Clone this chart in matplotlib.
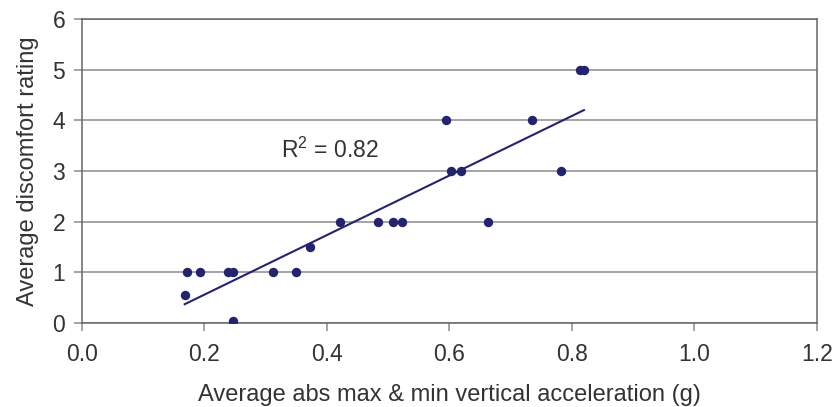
import numpy as np
import matplotlib
matplotlib.use("Agg")
import matplotlib.pyplot as plt

# ── Data ─────────────────────────────────────────────────────────────────────
accel_g = [0.168, 0.171, 0.193, 0.238, 0.247, 0.247, 0.312, 0.349, 0.373,
           0.422, 0.484, 0.508, 0.523, 0.594, 0.603, 0.619, 0.664, 0.735,
           0.783, 0.813, 0.820]
discomfort = [0.55, 1.0, 1.0, 1.0, 1.0, 0.04, 1.0, 1.0, 1.5,
              2.0, 2.0, 2.0, 2.0, 4.0, 3.0, 3.0, 2.0, 4.0,
              3.0, 5.0, 5.0]
x_ticks = [0.0, 0.2, 0.4, 0.6, 0.8, 1.0, 1.2]
y_ticks = [0, 1, 2, 3, 4, 5, 6]
r2_label = "R$^2$ = 0.82"

# ── Style ────────────────────────────────────────────────────────────────────
plt.rcParams["font.family"] = ["Liberation Sans", "DejaVu Sans"]
plt.rcParams["mathtext.fontset"] = "custom"
plt.rcParams["mathtext.rm"] = "Liberation Sans"
NAVY = "#23236e"
TXT = "#333333"
GRID = "#8c8c8c"
FS = 16.5

fig = plt.figure(figsize=(8.35, 4.07), dpi=100)
ax = fig.add_axes([0.098, 0.206, 0.880, 0.747])

# regression line over the data span
slope, intercept = np.polyfit(accel_g, discomfort, 1)
xs = np.array([min(accel_g), max(accel_g)])
ax.plot(xs, slope * xs + intercept, color=NAVY, lw=1.5, zorder=3)

ax.scatter(accel_g, discomfort, s=46, color=NAVY, zorder=4, linewidths=0)

ax.text(0.325, 3.42, r2_label, fontsize=FS, color=TXT, va="center", ha="left")

ax.set_xlim(0, 1.2)
ax.set_ylim(0, 6)
ax.set_xticks(x_ticks)
ax.set_xticklabels([f"{t:.1f}" for t in x_ticks])
ax.set_yticks(y_ticks)
ax.yaxis.grid(True, color=GRID, lw=1.1)
ax.set_axisbelow(True)
ax.tick_params(axis="both", colors=GRID, labelcolor=TXT, labelsize=FS,
               length=6, width=1.1)
ax.tick_params(axis="x", pad=8)
ax.tick_params(axis="y", pad=6)
for sp in ax.spines.values():
    sp.set_color("#666666")
    sp.set_linewidth(1.1)

ax.set_xlabel("Average abs max & min vertical acceleration (g)", fontsize=FS + 0.5,
              color=TXT, labelpad=13)
ax.set_ylabel("Average discomfort rating", fontsize=FS + 0.5, color=TXT, labelpad=10)

fig.savefig("out.png", dpi=100)
